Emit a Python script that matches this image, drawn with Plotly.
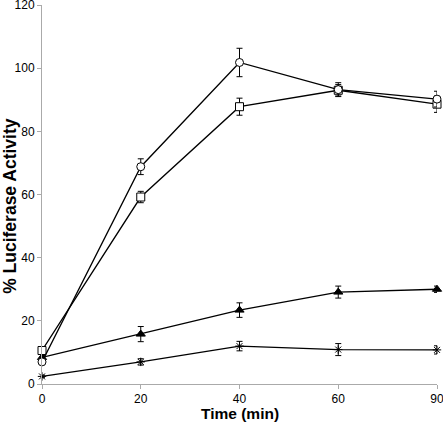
import plotly.graph_objects as go

time_labels = ["0", "20", "40", "60", "90"]

circle_vals = [7.0, 68.8, 101.8, 93.2, 90.2]
circle_err = [0.8, 2.5, 4.5, 2.2, 2.5]

square_vals = [10.6, 59.2, 87.8, 93.0, 88.6]
square_err = [0.8, 1.8, 2.7, 1.8, 2.6]

triangle_vals = [8.4, 15.8, 23.4, 29.1, 30.0]
triangle_err = [0.6, 2.4, 2.3, 1.9, 1.0]

star_vals = [2.4, 7.0, 12.0, 10.9, 10.8]
star_err = [0.4, 1.0, 1.5, 1.9, 1.3]

x_idx = list(range(len(time_labels)))

fig = go.Figure()

def add(vals, err, symbol, size, fill):
    fig.add_trace(go.Scatter(
        x=x_idx, y=vals, mode="lines+markers",
        line=dict(color="black", width=1.3),
        marker=dict(symbol=symbol, size=size, color=fill,
                    line=dict(color="black", width=1)),
        error_y=dict(type="data", array=err, visible=True,
                     color="black", thickness=1, width=3),
        cliponaxis=False, showlegend=False,
    ))

add(star_vals, star_err, "asterisk-open", 7, "black")
add(triangle_vals, triangle_err, "triangle-up", 8, "black")
add(square_vals, square_err, "square", 8, "white")
add(circle_vals, circle_err, "circle", 8, "white")

fig.update_layout(
    width=443, height=422,
    margin=dict(l=42, r=6, t=5, b=38, autoexpand=False),
    plot_bgcolor="white", paper_bgcolor="white",
    font=dict(family="Liberation Sans, Arial, sans-serif", size=12, color="black"),
    annotations=[
        dict(text="<b>Time (min)</b>", xref="paper", yref="paper", x=0.5, y=0,
             yshift=-29, xanchor="center", yanchor="middle", showarrow=False,
             font=dict(size=15.5, color="black")),
        dict(text="<b>% Luciferase Activity</b>", xref="paper", yref="paper",
             x=0, y=0.47, xshift=-32, xanchor="center", yanchor="middle",
             textangle=-90, showarrow=False, font=dict(size=17.5, color="black")),
    ],
)
fig.update_xaxes(
    range=[0, 4], tickvals=x_idx, ticktext=time_labels, automargin=False,
    showgrid=False, zeroline=False, showline=True, linecolor="#aaa", linewidth=1,
    ticks="outside", ticklen=4, tickcolor="#aaa", tickfont=dict(color="black"),
    ticklabeloverflow="allow",
)
fig.update_yaxes(
    range=[0, 120], tickvals=[0, 20, 40, 60, 80, 100, 120], automargin=False,
    showgrid=False, zeroline=False, showline=True, linecolor="#aaa", linewidth=1,
    ticks="outside", ticklen=4, tickcolor="#aaa", tickfont=dict(color="black"),
    ticklabeloverflow="allow",
)

fig.write_html(
    "out.html",
    config={"displayModeBar": False},
    post_script="document.body.style.margin='0';document.body.style.padding='0';",
)
